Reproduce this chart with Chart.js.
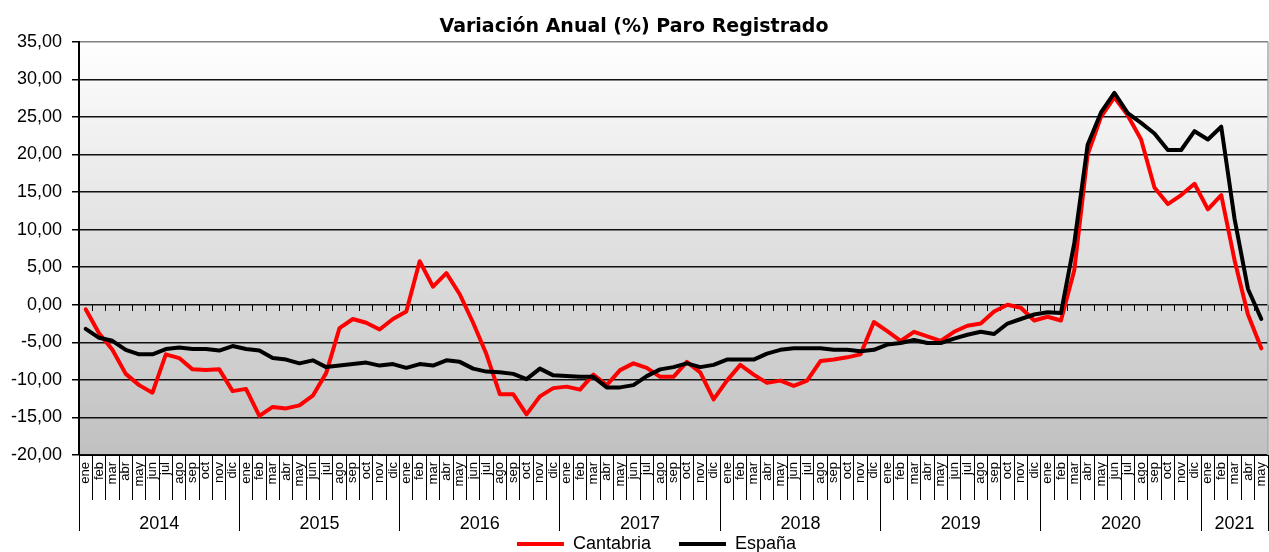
<!DOCTYPE html>
<html>
<head>
<meta charset="utf-8">
<script src="https://cdn.jsdelivr.net/npm/chart.js@4/dist/chart.umd.min.js"></script>
<style>
html,body{margin:0;padding:0;background:#fff;}
#wrap{width:1269px;height:552px;position:relative;}
</style>
</head>
<body>
<div id="wrap"><canvas id="c"></canvas></div>
<script>
// ---------------- data ----------------
const chartTitle = 'Variación Anual (%) Paro Registrado';
const monthNames = ['ene','feb','mar','abr','may','jun','jul','ago','sep','oct','nov','dic'];
const years = ['2014','2015','2016','2017','2018','2019','2020','2021'];
const monthsPerYear = [12,12,12,12,12,12,12,5];
const seriesNames = ['Cantabria','España'];

const cantabria = [
  -0.6,-3.8,-6.0,-9.2,-10.7,-11.7,-6.6,-7.1,-8.6,-8.7,-8.6,-11.5,
  -11.2,-14.8,-13.6,-13.8,-13.4,-12.1,-9.1,-3.1,-1.9,-2.4,-3.3,-1.9,
  -0.9,5.8,2.4,4.2,1.4,-2.4,-6.6,-11.9,-11.9,-14.6,-12.2,-11.1,
  -10.9,-11.3,-9.3,-10.7,-8.7,-7.8,-8.4,-9.6,-9.6,-7.6,-9.0,-12.6,
  -10.1,-8.0,-9.3,-10.4,-10.1,-10.8,-10.1,-7.5,-7.3,-7.0,-6.6,-2.3,
  -3.5,-4.8,-3.6,-4.2,-4.8,-3.6,-2.8,-2.5,-0.9,0.0,-0.4,-2.1,
  -1.6,-2.1,4.6,20.0,25.0,27.6,25.2,22.0,15.6,13.4,14.6,16.1,
  12.7,14.6,5.9,-1.3,-5.8
];
const espana = [
  -3.2,-4.4,-4.8,-6.0,-6.6,-6.6,-5.9,-5.7,-5.9,-5.9,-6.1,-5.5,
  -5.9,-6.1,-7.1,-7.3,-7.8,-7.4,-8.3,-8.1,-7.9,-7.7,-8.1,-7.9,
  -8.4,-7.9,-8.1,-7.4,-7.6,-8.5,-8.9,-9.0,-9.2,-9.9,-8.5,-9.4,
  -9.5,-9.6,-9.6,-11.0,-11.0,-10.7,-9.5,-8.6,-8.3,-7.8,-8.3,-8.0,
  -7.3,-7.3,-7.3,-6.5,-6.0,-5.8,-5.8,-5.8,-6.0,-6.0,-6.2,-6.0,
  -5.3,-5.1,-4.7,-5.1,-5.1,-4.5,-4.0,-3.6,-3.9,-2.5,-1.9,-1.3,
  -1.0,-1.1,8.2,21.3,25.6,28.2,25.5,24.2,22.8,20.6,20.6,23.1,
  22.0,23.7,11.4,2.1,-1.9
];

const yMin = -20, yMax = 35, yStep = 5;

// ---------------- derived category structure ----------------
const categories = [];
years.forEach((y, k) => { for (let m = 0; m < monthsPerYear[k]; m++) categories.push(monthNames[m]); });

// half-month grid for the year row: slot j sits at month position (j/2 - 0.5)
const yearSlots = new Array(categories.length * 2 + 1).fill('');
const yearBoundarySlots = new Set([0]);
let acc = 0;
years.forEach((y, k) => {
  const startSlot = acc * 2;
  acc += monthsPerYear[k];
  const endSlot = acc * 2;
  yearBoundarySlots.add(endSlot);
  yearSlots[(startSlot + endSlot) / 2] = y;
});

// ---------------- styling ----------------
const AX_FONT = "'Liberation Sans', Arial, sans-serif";

const plotBg = {
  id: 'plotBg',
  beforeDraw(chart) {
    const {ctx, chartArea: a} = chart;
    const g = ctx.createLinearGradient(0, a.top, 0, a.bottom);
    g.addColorStop(0, '#ffffff');
    g.addColorStop(1, '#c0c0c0');
    ctx.save();
    ctx.fillStyle = g;
    ctx.fillRect(a.left, a.top, a.right - a.left, a.bottom - a.top);
    ctx.restore();
  },
  beforeDatasetsDraw(chart) {
    const {ctx, chartArea: a} = chart;
    ctx.save();
    ctx.strokeStyle = '#a8a8a8';
    ctx.lineWidth = 1.5;
    ctx.beginPath();
    ctx.moveTo(a.right, a.top);
    ctx.lineTo(a.right, a.bottom);
    ctx.stroke();
    ctx.restore();
  }
};

// nudge the legend box so it sits under the year row like in the original
const legendShift = {
  id: 'legendShift',
  afterLayout(chart) {
    const lg = chart.legend;
    if (lg) { lg.left -= 17; lg.right -= 17; lg.top -= 24; lg.bottom -= 24; }
  }
};

new Chart(document.getElementById('c'), {
  type: 'line',
  data: {
    labels: categories,
    datasets: [
      {label: seriesNames[0], data: cantabria, xAxisID: 'x', yAxisID: 'y',
       borderColor: '#ff0000', backgroundColor: '#ff0000', borderWidth: 4,
       pointRadius: 0, tension: 0, order: 1, borderJoinStyle: 'round', borderCapStyle: 'round'},
      {label: seriesNames[1], data: espana, xAxisID: 'x', yAxisID: 'y',
       borderColor: '#000000', backgroundColor: '#000000', borderWidth: 4,
       pointRadius: 0, tension: 0, order: 0, borderJoinStyle: 'round', borderCapStyle: 'round'}
    ]
  },
  options: {
    responsive: true,
    maintainAspectRatio: false,
    animation: false,
    events: [],
    layout: {padding: {left: 0, right: 1, top: 0, bottom: -35}},
    plugins: {
      title: {
        display: true, text: chartTitle, color: '#000',
        font: {family: "'DejaVu Sans', Verdana, sans-serif", size: 19, weight: 'bold'},
        padding: {top: 16, bottom: 3}
      },
      legend: {
        position: 'bottom',
        fullSize: false,
        labels: {
          color: '#000',
          font: {family: AX_FONT, size: 18},
          boxWidth: 47, boxHeight: 4, padding: 28,
          sort: (a, b) => a.datasetIndex - b.datasetIndex,
          generateLabels: (chart) => Chart.defaults.plugins.legend.labels.generateLabels(chart)
            .map(it => Object.assign(it, {lineWidth: 0}))
        }
      },
      tooltip: {enabled: false}
    },
    scales: {
      y: {
        min: yMin, max: yMax,
        ticks: {
          stepSize: yStep, color: '#000', padding: 10,
          font: {family: AX_FONT, size: 18},
          callback: v => Number(v).toFixed(2).replace('.', ',')
        },
        grid: {
          color: c => (c.tick && c.tick.value === yMax) ? '#808080' : '#111',
          lineWidth: 1.5, tickColor: '#000', tickLength: 7, tickWidth: 1.5
        },
        border: {color: '#000', width: 2},
        afterFit: s => { s.width = 79; }
      },
      x: {
        type: 'category', position: 'bottom', weight: 0, offset: true,
        grid: {offset: true, drawOnChartArea: false, drawTicks: true, tickLength: 45, color: '#000', lineWidth: 1},
        border: {display: true, color: '#000', width: 1},
        ticks: {
          autoSkip: false, minRotation: 90, maxRotation: 90, padding: -38,
          color: '#000', font: {family: AX_FONT, size: 13}
        },
        afterFit: s => { s.height = 45; }
      },
      xYear: {
        type: 'category', position: 'bottom', weight: 1,
        labels: yearSlots, offset: false,
        grid: {
          offset: false, drawOnChartArea: false, drawTicks: true, tickLength: 31, lineWidth: 1,
          color: c => yearBoundarySlots.has(c.index) ? '#000' : 'rgba(0,0,0,0)'
        },
        border: {display: false},
        ticks: {
          autoSkip: false, maxRotation: 0, minRotation: 0, padding: -18,
          color: '#000', font: {family: AX_FONT, size: 18}
        },
        afterFit: s => { s.height = 31; }
      },
      xZero: {
        type: 'category', position: {y: 0}, offset: true,
        grid: {offset: true, drawOnChartArea: false, drawTicks: true, tickLength: 6, color: '#000', lineWidth: 1},
        border: {display: false},
        ticks: {display: false}
      }
    }
  },
  plugins: [plotBg, legendShift]
});
</script>
</body>
</html>
